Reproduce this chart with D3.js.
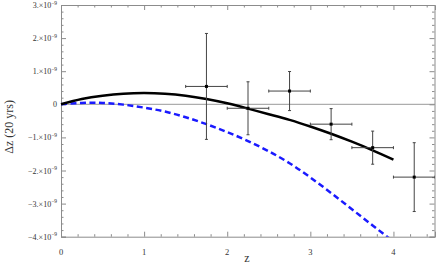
<!DOCTYPE html>
<html>
<head>
<meta charset="utf-8">
<script src="https://cdn.jsdelivr.net/npm/d3@7"></script>
<style>
  body { margin: 0; background: #fff; }
  svg { display: block; font-family: "Liberation Serif", "DejaVu Serif", serif; }
</style>
</head>
<body>
<div id="chart"></div>
<script>
// values in units of 1e-9
const curveZ = [0, 0.25, 0.5, 0.75, 1, 1.25, 1.5, 1.75, 2, 2.25, 2.5, 2.75, 3, 3.25, 3.5, 3.75, 4];
const solidDz = [0, 0.16, 0.26, 0.32, 0.34, 0.32, 0.26, 0.16, 0.03, -0.13, -0.30, -0.47, -0.67, -0.89, -1.13, -1.39, -1.67];
const dashedDz = [0, 0.04, 0.04, -0.01, -0.10, -0.22, -0.39, -0.60, -0.84, -1.11, -1.42, -1.78, -2.21, -2.68, -3.17, -3.66, -4.15];

const pointZ = [1.75, 2.25, 2.75, 3.25, 3.75, 4.25];
const pointZErr = [0.25, 0.25, 0.25, 0.25, 0.25, 0.25];
const pointDz = [0.54, -0.12, 0.40, -0.60, -1.31, -2.20];
const pointDzErr = [1.6, 0.8, 0.59, 0.47, 0.5, 1.04];

const xTicks = [0, 1, 2, 3, 4];
const yTicks = [-4, -3, -2, -1, 0, 1, 2, 3];

const width = 436, height = 265;
const margin = { top: 5, right: 1, bottom: 28.3, left: 61 };

const svg = d3.select("#chart").append("svg")
    .attr("width", width)
    .attr("height", height);

const x = d3.scaleLinear().domain([0, 4.5]).range([margin.left, width - margin.right]);
const y = d3.scaleLinear().domain([-4, 3]).range([height - margin.bottom, margin.top]);

const frameColor = "#8c8c8c";

svg.append("clipPath").attr("id", "clip")
    .append("rect")
    .attr("x", x(0)).attr("y", y(3))
    .attr("width", x(4.5) - x(0)).attr("height", y(-4) - y(3));

// zero line
svg.append("line")
    .attr("x1", x(0)).attr("x2", x(4.5))
    .attr("y1", y(0)).attr("y2", y(0))
    .attr("stroke", "#999").attr("stroke-width", 1);

// frame with inward ticks
const xMinor = d3.range(0, 4.51, 0.2).filter(v => Math.abs(v - Math.round(v)) > 1e-6);
const yMinor = d3.range(-4, 3.01, 0.2).filter(v => Math.abs(v - Math.round(v)) > 1e-6);

function addAxis(axisFn, scale, major, minor, transform) {
    svg.append("g")
        .attr("transform", transform)
        .call(axisFn(scale).tickValues(major).tickSize(-5).tickFormat(""))
        .call(g => g.select(".domain").attr("stroke", frameColor))
        .call(g => g.selectAll(".tick line").attr("stroke", frameColor));
    svg.append("g")
        .attr("transform", transform)
        .call(axisFn(scale).tickValues(minor).tickSize(-2.5).tickFormat(""))
        .call(g => g.select(".domain").remove())
        .call(g => g.selectAll(".tick line").attr("stroke", frameColor));
}
addAxis(d3.axisBottom, x, xTicks, xMinor, `translate(0,${y(-4)})`);
addAxis(d3.axisTop, x, xTicks, xMinor, `translate(0,${y(3)})`);
addAxis(d3.axisLeft, y, yTicks, yMinor, `translate(${x(0)},0)`);
addAxis(d3.axisRight, y, yTicks, yMinor, `translate(${x(4.5) - 0.5},0)`);

// tick labels
svg.append("g").selectAll("text")
    .data(xTicks)
    .join("text")
    .attr("x", d => x(d))
    .attr("y", y(-4) + 18)
    .attr("text-anchor", "middle")
    .attr("font-size", 8.5)
    .attr("fill", "#333")
    .text(d => d);

const yLab = svg.append("g").selectAll("text")
    .data(yTicks)
    .join("text")
    .attr("x", x(0) - 4)
    .attr("y", d => y(d) + 3)
    .attr("text-anchor", "end")
    .attr("font-size", 8)
    .attr("fill", "#333");
yLab.each(function (d) {
    const t = d3.select(this);
    if (d === 0) { t.text("0"); return; }
    t.append("tspan").text((d < 0 ? "\u2212" : "") + Math.abs(d) + ".\u00d710");
    t.append("tspan").attr("dy", -3.5).attr("font-size", 5.5).text("\u22129");
});

// axis titles
svg.append("text")
    .attr("x", 247).attr("y", 262)
    .attr("text-anchor", "middle")
    .attr("font-size", 12)
    .attr("fill", "#333")
    .text("z");

svg.append("text")
    .attr("transform", `translate(13,${(y(3) + y(-4)) / 2 + 6}) rotate(-90)`)
    .attr("text-anchor", "middle")
    .attr("font-size", 12)
    .attr("fill", "#333")
    .text("\u0394z (20 yrs)");

// curves
const line = d3.line().curve(d3.curveNatural)
    .x(d => x(d[0])).y(d => y(d[1]));

svg.append("path")
    .datum(curveZ.map((z, i) => [z, dashedDz[i]]))
    .attr("clip-path", "url(#clip)")
    .attr("d", line)
    .attr("fill", "none")
    .attr("stroke", "#1a1aff")
    .attr("stroke-width", 2.5)
    .attr("stroke-dasharray", "6,3.5");

svg.append("path")
    .datum(curveZ.map((z, i) => [z, solidDz[i]]))
    .attr("d", line)
    .attr("fill", "none")
    .attr("stroke", "#000")
    .attr("stroke-width", 2.5);

// data points with error bars
const pts = pointZ.map((z, i) => ({ z: z, dz: pointDz[i], ex: pointZErr[i], ey: pointDzErr[i] }));
const eb = svg.append("g").attr("clip-path", "url(#clip)")
    .selectAll("g").data(pts).join("g")
    .attr("stroke", "#444").attr("stroke-width", 1);

eb.append("line")
    .attr("x1", d => x(d.z)).attr("x2", d => x(d.z))
    .attr("y1", d => y(d.dz - d.ey)).attr("y2", d => y(d.dz + d.ey));
eb.append("line")
    .attr("x1", d => x(d.z - d.ex)).attr("x2", d => x(d.z + d.ex))
    .attr("y1", d => y(d.dz)).attr("y2", d => y(d.dz));
// caps
eb.selectAll(".vcap").data(d => [[d.z, d.dz - d.ey], [d.z, d.dz + d.ey]]).join("line")
    .attr("x1", d => x(d[0]) - 1.5).attr("x2", d => x(d[0]) + 1.5)
    .attr("y1", d => y(d[1])).attr("y2", d => y(d[1]));
eb.selectAll(".hcap").data(d => [[d.z - d.ex, d.dz], [d.z + d.ex, d.dz]]).join("line")
    .attr("x1", d => x(d[0])).attr("x2", d => x(d[0]))
    .attr("y1", d => y(d[1]) - 1.5).attr("y2", d => y(d[1]) + 1.5);
eb.append("rect")
    .attr("x", d => x(d.z) - 1.5).attr("y", d => y(d.dz) - 1.5)
    .attr("width", 3).attr("height", 3)
    .attr("fill", "#000").attr("stroke", "none");
</script>
</body>
</html>
